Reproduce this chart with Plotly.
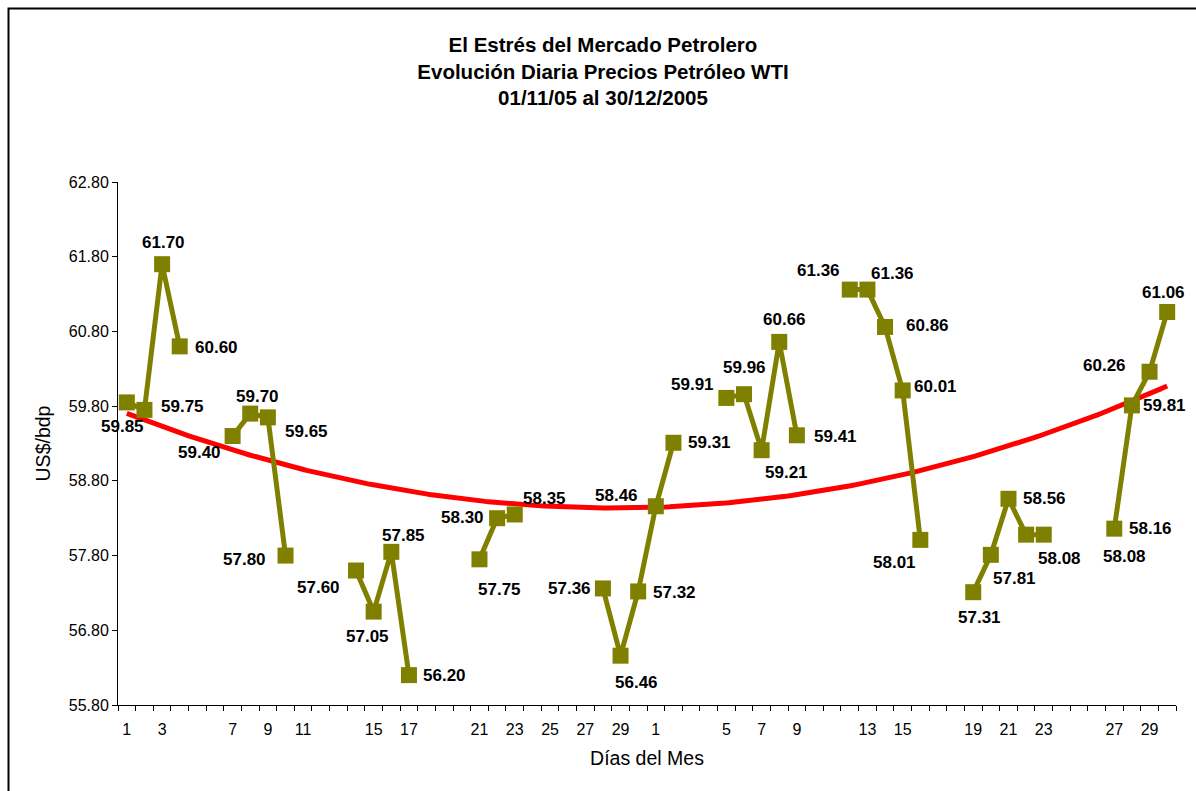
import numpy as np
import plotly.graph_objects as go

# Daily WTI closing prices (US$/bdp); None = no quote that day
nov_days = list(range(1, 31))
nov_prices = [59.85, 59.75, 61.70, 60.60, None, None, 59.40, 59.70, 59.65, 57.80,
              None, None, None, 57.60, 57.05, 57.85, 56.20, None, None, None,
              57.75, 58.30, 58.35, None, None, None, None, 57.36, 56.46, 57.32]
dec_days = list(range(1, 31))
dec_prices = [58.46, 59.31, None, None, 59.91, 59.96, 59.21, 60.66, 59.41, None,
              None, 61.36, 61.36, 60.86, 60.01, 58.01, None, None, 57.31, 57.81,
              58.56, 58.08, 58.08, None, None, None, 58.16, 59.81, 60.26, 61.06]

# Day numbers printed under the axis
nov_tick_days = [1, 3, 7, 9, 11, 15, 17, 21, 23, 25, 27, 29]
dec_tick_days = [1, 5, 7, 9, 13, 15, 19, 21, 23, 27, 29]

y_ticks = [55.80, 56.80, 57.80, 58.80, 59.80, 60.80, 61.80, 62.80]

# Where each value label sits relative to its marker (pixels: right, up)
label_offsets = {
    ("nov", 1): (-4, -24), ("nov", 2): (38, 3), ("nov", 3): (1, 22), ("nov", 4): (37, -1),
    ("nov", 7): (-33, -16), ("nov", 8): (7, 17), ("nov", 9): (39, -14), ("nov", 10): (-41, -4),
    ("nov", 14): (-38, -17), ("nov", 15): (-6, -25), ("nov", 16): (12, 16), ("nov", 17): (36, 0),
    ("nov", 21): (20, -30), ("nov", 22): (-35, 1), ("nov", 23): (30, 16),
    ("nov", 28): (-33, 0), ("nov", 29): (16, -27), ("nov", 30): (36, -1),
    ("dec", 1): (-39, 11), ("dec", 2): (36, 0), ("dec", 5): (-34, 13), ("dec", 6): (1, 27),
    ("dec", 7): (25, -22), ("dec", 8): (5, 22), ("dec", 9): (39, -1),
    ("dec", 12): (-31, 19), ("dec", 13): (25, 16), ("dec", 14): (42, 1), ("dec", 15): (33, 4),
    ("dec", 16): (-26, -23), ("dec", 19): (6, -25), ("dec", 20): (24, -24), ("dec", 21): (36, 0),
    ("dec", 22): (33, -24), ("dec", 23): (81, -22),
    ("dec", 27): (36, 0), ("dec", 28): (33, 0), ("dec", 29): (-45, 6), ("dec", 30): (-4, 20),
}

OLIVE = "#808000"
FONT = "Arial, Liberation Sans, sans-serif"

# One category slot per calendar day, November first
xs, ys, keys = [], [], []
for d, p in zip(nov_days, nov_prices):
    xs.append(d - 1); ys.append(p); keys.append(("nov", d))
for d, p in zip(dec_days, dec_prices):
    xs.append(len(nov_days) + d - 1); ys.append(p); keys.append(("dec", d))

tick_vals = [d - 1 for d in nov_tick_days] + [len(nov_days) + d - 1 for d in dec_tick_days]
tick_text = [str(d) for d in nov_tick_days] + [str(d) for d in dec_tick_days]

# Second-order polynomial trend over the quoted days (category number as x)
known = [(x + 1, y) for x, y in zip(xs, ys) if y is not None]
kx = np.array([k[0] for k in known], dtype=float)
ky = np.array([k[1] for k in known], dtype=float)
coef = np.polyfit(kx, ky, 2)
tx = np.linspace(kx.min(), kx.max(), 300)
trend = np.polyval(coef, tx)

fig = go.Figure()
fig.add_trace(go.Scatter(
    x=tx - 1, y=trend, mode="lines",
    line=dict(color="#FF0000", width=5), hoverinfo="skip", showlegend=False,
))
fig.add_trace(go.Scatter(
    x=xs, y=ys, mode="lines+markers", connectgaps=False,
    line=dict(color=OLIVE, width=5),
    marker=dict(symbol="square", size=16, color=OLIVE, line=dict(color=OLIVE, width=0)),
    showlegend=False,
))

for x, y, k in zip(xs, ys, keys):
    if y is None:
        continue
    dx, dy = label_offsets[k]
    fig.add_annotation(
        x=x, y=y, text=f"{y:.2f}", showarrow=False,
        xanchor="center", yanchor="middle", xshift=dx, yshift=dy,
        font=dict(family=FONT, size=17, color="black", weight="bold"),
    )

W, H = 1196, 791
ML, MR, MT, MB = 118, 20, 182, 86
pw, ph = W - ML - MR, H - MT - MB

# Outer chart frame
fig.add_shape(
    type="rect", xref="paper", yref="paper",
    x0=(8.5 - ML) / pw, x1=(W + 20 - ML) / pw,
    y0=-(H + 20 - MT - ph) / ph, y1=(H - MB - 8.5) / ph,
    line=dict(color="black", width=2), fillcolor="rgba(0,0,0,0)", layer="below",
)

fig.update_layout(
    width=W, height=H,
    margin=dict(l=ML, r=MR, t=MT, b=MB),
    paper_bgcolor="white", plot_bgcolor="white",
    font=dict(family=FONT, color="black"),
    title=dict(
        text="El Estrés del Mercado Petrolero<br>Evolución Diaria Precios Petróleo WTI<br>01/11/05 al 30/12/2005",
        x=603 / W, xanchor="center", y=1 - 52 / H, yanchor="middle",
        font=dict(family=FONT, size=20.5, color="black", weight="bold"),
    ),
    xaxis=dict(
        range=[-0.5, len(xs) - 0.5], showgrid=False, zeroline=False,
        showline=True, linecolor="black", linewidth=1,
        tickmode="array", tickvals=tick_vals, ticktext=tick_text,
        ticks="", ticklabelstandoff=10,
        tickfont=dict(family=FONT, size=16, color="black"),
        minor=dict(ticks="outside", tickmode="linear", tick0=-0.5, dtick=1,
                   ticklen=5, tickcolor="black", tickwidth=1, showgrid=False),
        title=dict(text="Días del Mes", font=dict(family=FONT, size=19.5, color="black"), standoff=14),
    ),
    yaxis=dict(
        range=[y_ticks[0], y_ticks[-1]], showgrid=False, zeroline=False,
        showline=True, linecolor="black", linewidth=1,
        tickmode="array", tickvals=y_ticks, ticktext=[f"{v:.2f}" for v in y_ticks],
        ticks="outside", ticklen=5, tickcolor="black",
        tickfont=dict(family=FONT, size=16, color="black"),
        title=dict(text="US$/bdp", font=dict(family=FONT, size=19.5, color="black"), standoff=12),
    ),
)

fig.write_html("out.html")
